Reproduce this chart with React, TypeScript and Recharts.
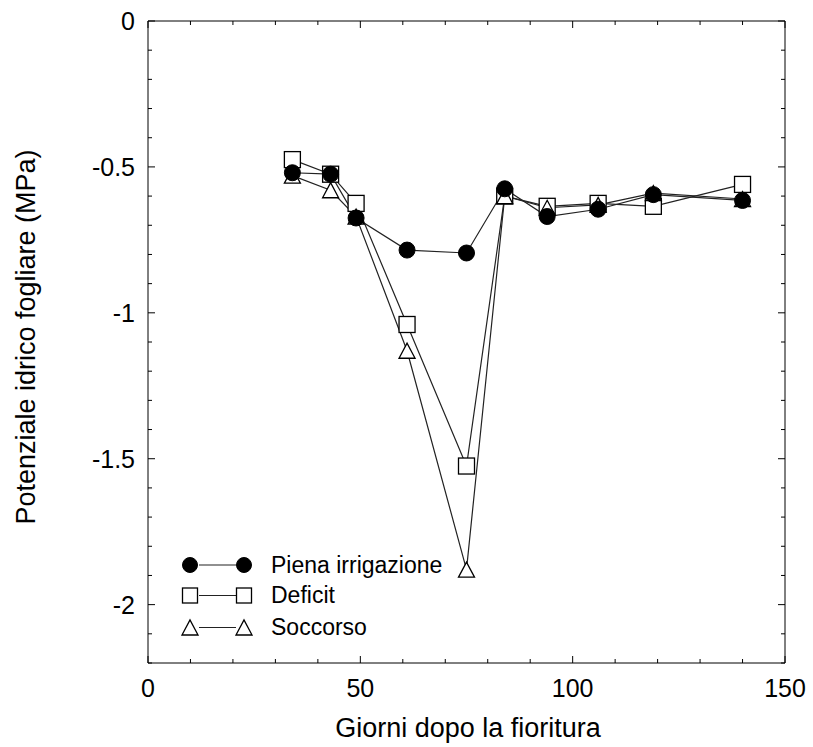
import { LineChart, Line, XAxis, YAxis } from "recharts";

const days = [34, 43, 49, 61, 75, 84, 94, 106, 119, 140];
const piena = [-0.52, -0.525, -0.675, -0.785, -0.795, -0.575, -0.67, -0.645, -0.595, -0.615];
const deficit = [-0.475, -0.525, -0.625, -1.04, -1.525, -0.6, -0.635, -0.625, -0.635, -0.56];
const soccorso = [-0.53, -0.58, -0.67, -1.13, -1.88, -0.6, -0.64, -0.63, -0.59, -0.61];

const xTicks = [0, 10, 20, 30, 40, 50, 60, 70, 80, 90, 100, 110, 120, 130, 140, 150];
const xLabels = [0, 50, 100, 150];
const yTicks = [
  0, -0.1, -0.2, -0.3, -0.4, -0.5, -0.6, -0.7, -0.8, -0.9, -1, -1.1, -1.2, -1.3, -1.4, -1.5,
  -1.6, -1.7, -1.8, -1.9, -2, -2.1, -2.2,
];
const yLabels = [0, -0.5, -1, -1.5, -2];

const data = days.map((d, i) => ({
  day: d,
  piena: piena[i],
  deficit: deficit[i],
  soccorso: soccorso[i],
}));

const FONT = "'Liberation Sans', Arial, sans-serif";
const INK = "#000";
const LINE = "#222";

const isLabel = (list: number[], v: number) => list.some((l) => Math.abs(l - v) < 1e-9);

function BottomTick({ x, y, payload }: any) {
  const major = isLabel(xLabels, payload.value);
  return (
    <g>
      <line x1={x} x2={x} y1={y} y2={y - (major ? 7 : 4)} stroke={INK} />
      {major && (
        <text x={x} y={y + 34} textAnchor="middle" fontSize={25} fontFamily={FONT} fill={INK}>
          {payload.value}
        </text>
      )}
    </g>
  );
}

function TopTick({ x, y, payload }: any) {
  const major = isLabel(xLabels, payload.value);
  return <line x1={x} x2={x} y1={y} y2={y + (major ? 7 : 4)} stroke={INK} />;
}

function LeftTick({ x, y, payload }: any) {
  const major = isLabel(yLabels, payload.value);
  return (
    <g>
      <line x1={x} x2={x + (major ? 7 : 4)} y1={y} y2={y} stroke={INK} />
      {major && (
        <text x={x - 13} y={y + 9} textAnchor="end" fontSize={25} fontFamily={FONT} fill={INK}>
          {String(payload.value)}
        </text>
      )}
    </g>
  );
}

function RightTick({ x, y, payload }: any) {
  const major = isLabel(yLabels, payload.value);
  return <line x1={x} x2={x - (major ? 7 : 4)} y1={y} y2={y} stroke={INK} />;
}

function Circle({ cx, cy, r = 8 }: any) {
  return <circle cx={cx} cy={cy} r={r} fill="#000" stroke="#000" />;
}

function Square({ cx, cy, s = 16 }: any) {
  return <rect x={cx - s / 2} y={cy - s / 2} width={s} height={s} fill="#fff" stroke="#000" strokeWidth={1.3} />;
}

function Triangle({ cx, cy, w = 16, h = 15 }: any) {
  const pts = `${cx - w / 2},${cy + h / 2} ${cx + w / 2},${cy + h / 2} ${cx},${cy - h / 2}`;
  return <polygon points={pts} fill="#fff" stroke="#000" strokeWidth={1.3} />;
}

const dotOf = (Shape: any) => (p: any) =>
  p.cx == null ? <g key={`e-${p.index}`} /> : <Shape key={`d-${p.index}`} cx={p.cx} cy={p.cy} />;

const legendRows = [
  { label: "Piena irrigazione", Shape: Circle, cy: 565, base: 573 },
  { label: "Deficit", Shape: Square, cy: 595.5, base: 603 },
  { label: "Soccorso", Shape: Triangle, cy: 627.5, base: 635 },
];

export default function App() {
  return (
    <div style={{ position: "absolute", left: 0, top: 0, width: 813, height: 747, background: "#fff" }}>
      <LineChart
        width={813}
        height={747}
        data={data}
        margin={{ top: 20, right: 27, bottom: 24, left: 48 }}
      >
        <XAxis
          xAxisId="b"
          dataKey="day"
          type="number"
          orientation="bottom"
          domain={[0, 150]}
          ticks={xTicks}
          interval={0}
          height={60}
          tickSize={0}
          tickMargin={0}
          tickLine={false}
          axisLine={{ stroke: INK, strokeWidth: 1 }}
          tick={BottomTick}
        />
        <XAxis
          xAxisId="t"
          dataKey="day"
          type="number"
          orientation="top"
          domain={[0, 150]}
          ticks={xTicks}
          interval={0}
          height={1}
          tickSize={0}
          tickMargin={0}
          tickLine={false}
          axisLine={{ stroke: INK, strokeWidth: 1 }}
          tick={TopTick}
        />
        <YAxis
          yAxisId="l"
          type="number"
          orientation="left"
          domain={[-2.2, 0]}
          ticks={yTicks}
          interval={0}
          width={100}
          tickSize={0}
          tickMargin={0}
          tickLine={false}
          axisLine={{ stroke: INK, strokeWidth: 1 }}
          tick={LeftTick}
        />
        <YAxis
          yAxisId="r"
          type="number"
          orientation="right"
          domain={[-2.2, 0]}
          ticks={yTicks}
          interval={0}
          width={1}
          tickSize={0}
          tickMargin={0}
          tickLine={false}
          axisLine={{ stroke: INK, strokeWidth: 1 }}
          tick={RightTick}
        />
        {/* invisible carrier so the top/right frame axes get drawn */}
        <Line
          xAxisId="t"
          yAxisId="r"
          dataKey="piena"
          stroke="none"
          dot={false}
          activeDot={false}
          legendType="none"
          isAnimationActive={false}
        />
        <Line
          xAxisId="b"
          yAxisId="l"
          dataKey="deficit"
          stroke={LINE}
          strokeWidth={1.2}
          dot={dotOf(Square)}
          activeDot={false}
          isAnimationActive={false}
        />
        <Line
          xAxisId="b"
          yAxisId="l"
          dataKey="soccorso"
          stroke={LINE}
          strokeWidth={1.2}
          dot={dotOf(Triangle)}
          activeDot={false}
          isAnimationActive={false}
        />
        <Line
          xAxisId="b"
          yAxisId="l"
          dataKey="piena"
          stroke={LINE}
          strokeWidth={1.2}
          dot={dotOf(Circle)}
          activeDot={false}
          isAnimationActive={false}
        />
      </LineChart>
      <svg
        width={813}
        height={747}
        style={{ position: "absolute", left: 0, top: 0, pointerEvents: "none" }}
      >
        <text
          x={468}
          y={737}
          textAnchor="middle"
          fontSize={27}
          fontFamily={FONT}
          fill={INK}
        >
          Giorni dopo la fioritura
        </text>
        <text
          transform="translate(35,337) rotate(-90)"
          textAnchor="middle"
          fontSize={27}
          fontFamily={FONT}
          fill={INK}
        >
          Potenziale idrico fogliare (MPa)
        </text>
        {legendRows.map(({ label, Shape, cy, base }) => (
          <g key={label}>
            <line x1={199} x2={236} y1={cy} y2={cy} stroke={LINE} strokeWidth={1.2} />
            <Shape cx={190} cy={cy} {...(Shape === Circle ? { r: 7.5 } : Shape === Square ? { s: 15 } : { w: 16, h: 15 })} />
            <Shape cx={244} cy={cy} {...(Shape === Circle ? { r: 7.5 } : Shape === Square ? { s: 15 } : { w: 16, h: 15 })} />
            <text x={271} y={base} fontSize={23} fontFamily={FONT} fill={INK}>
              {label}
            </text>
          </g>
        ))}
      </svg>
    </div>
  );
}
